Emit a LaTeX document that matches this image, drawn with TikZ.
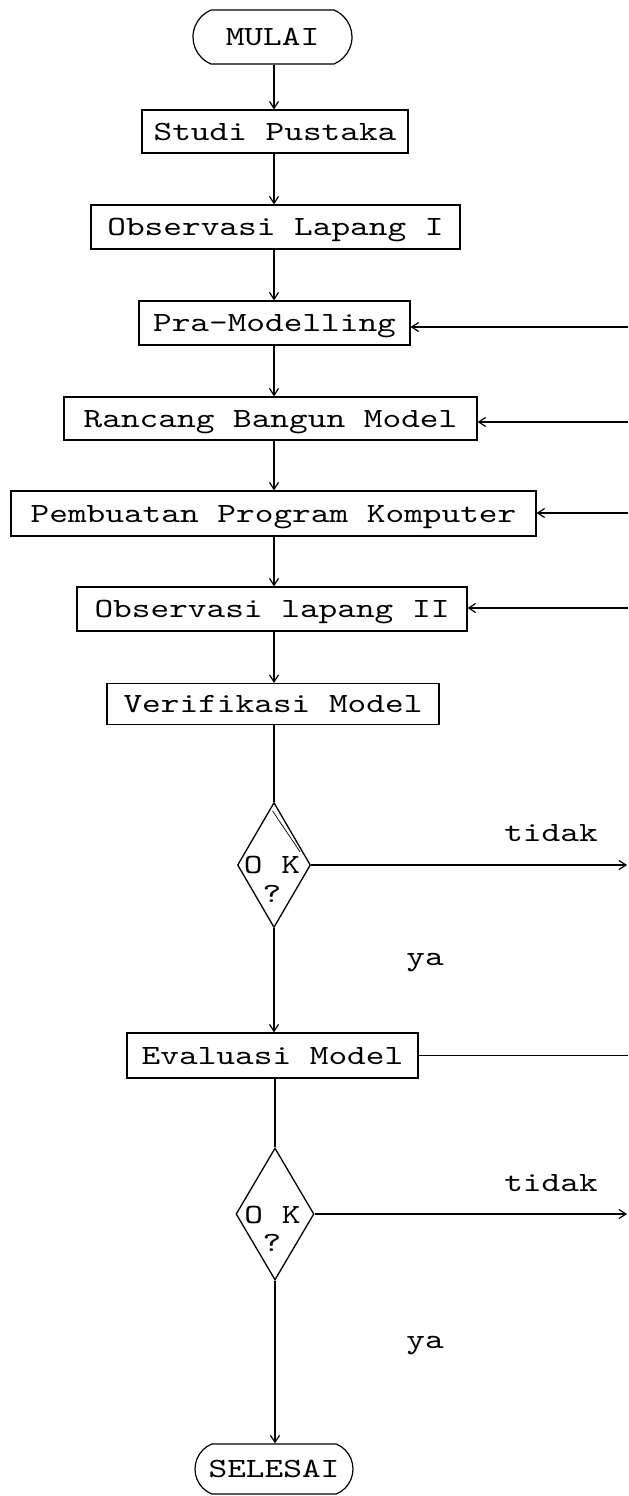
\documentclass[tikz,border=0pt]{standalone}
\usepackage{fontspec}
\setmonofont{lmmono10-regular.otf}[FakeStretch=1.28]
\usetikzlibrary{arrows.meta,shapes.geometric,shapes.misc}

\begin{document}
\begin{tikzpicture}[x=0.5pt,y=-0.5pt,
  every node/.style={font=\ttfamily\fontsize{13.9}{16}\selectfont,
    inner sep=0pt, text height=8.5pt, text depth=0pt},
  stepbox/.style={draw, rectangle, line width=0.55pt},
  terminal/.style={draw, rounded rectangle, rounded rectangle arc length=135, line width=0.6pt},
  decision/.style={draw, diamond, line width=0.65pt, inner sep=0pt},
  flow/.style={line width=0.6pt, -{Straight Barb[length=3.5pt,width=4.5pt]}},
  plain/.style={line width=0.6pt},
]
\useasboundingbox (0,0) rectangle (628,1496);

% reference columns
\coordinate (spine) at (274,0);
\coordinate (edge) at (627,0);

% main chain
\node[terminal, minimum width=79.5pt, minimum height=27pt] (mulai) at (272.5,37) {MULAI};
\node[stepbox, minimum width=133pt, minimum height=21.5pt] (studi) at (275,131.5) {Studi Pustaka};
\node[stepbox, minimum width=184.5pt, minimum height=22pt] (obs1) at (275.5,227) {Observasi Lapang I};
\node[stepbox, minimum width=135.5pt, minimum height=22pt] (pra) at (274.5,323) {Pra-Modelling};
\node[stepbox, minimum width=206.5pt, minimum height=21.5pt] (rancang) at (270.5,418.5) {Rancang Bangun Model};
\node[stepbox, minimum width=262.5pt, minimum height=22.5pt] (pemb) at (273.5,513.5) {Pembuatan Program Komputer};
\node[stepbox, minimum width=195pt, minimum height=22pt] (obs2) at (272,609) {Observasi lapang II};
\node[stepbox, minimum width=166pt, minimum height=20.5pt] (verif) at (273,704) {Verifikasi Model};

% first decision
\node[decision, minimum width=36.5pt, minimum height=62.5pt] (d1) at (274,865) {};
\node (d1ok) at (272,865) {O K};
\node (d1q) at (272,894) {?};
\draw[line width=0.35pt] ([shift={(-1.5,9)}]d1.north) -- ([shift={(-11,-13)}]d1.east);

\node[stepbox, minimum width=145.5pt, minimum height=22.5pt] (eval) at (272.5,1055.5) {Evaluasi Model};

% second decision
\node[decision, minimum width=39pt, minimum height=66pt] (d2) at (275,1214) {};
\node (d2ok) at (272.5,1215) {O K};
\node (d2q) at (272,1243) {?};

\node[terminal, minimum width=79pt, minimum height=25pt] (selesai) at (274,1469) {SELESAI};

% branch labels
\node (tidak1) at (551,833) {tidak};
\node (ya1) at (425,956.5) {ya};
\node (tidak2) at (551,1183) {tidak};
\node (ya2) at (425,1339.5) {ya};

% downward flow
\draw[flow] (mulai.south -| spine) -- (studi.north -| spine);
\draw[flow] (studi.south -| spine) -- (obs1.north -| spine);
\draw[flow] (obs1.south -| spine) -- (pra.north -| spine);
\draw[flow] (pra.south -| spine) -- (rancang.north -| spine);
\draw[flow] (rancang.south -| spine) -- (pemb.north -| spine);
\draw[flow] (pemb.south -| spine) -- (obs2.north -| spine);
\draw[flow] (obs2.south -| spine) -- (verif.north -| spine);
\draw[plain] (verif.south -| d1.north) -- (d1.north);
\draw[flow] (d1.south) -- (eval.north -| d1.south);
\draw[plain] (eval.south -| d2.north) -- (d2.north);
\draw[flow] (d2.south) -- (selesai.north -| d2.south);

% feedback lines at the right margin
\coordinate (r1) at (628,327);
\coordinate (r2) at (628,422);
\coordinate (r3) at (628,513);
\coordinate (r4) at (628,608);
\draw[flow] (r1) -- (r1 -| pra.east);
\draw[flow] (r2) -- (r2 -| rancang.east);
\draw[flow] (r3) -- (r3 -| pemb.east);
\draw[flow] (r4) -- (r4 -| obs2.east);

% outgoing branches
\draw[flow] (d1.east) -- (d1.east -| edge);
\draw[plain] (eval.east) -- (eval.east -| edge) -- ++(1,0);
\draw[flow] (d2.east) -- (d2.east -| edge);
\end{tikzpicture}
\end{document}
